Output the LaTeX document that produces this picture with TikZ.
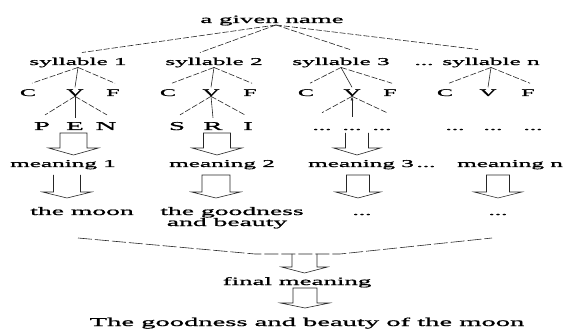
\documentclass[tikz,border=0pt]{standalone}
\usepackage{fontspec}
\setmainfont{Liberation Serif}[FakeStretch=2.4,FakeBold=1.2]
\usetikzlibrary{arrows.meta,calc}
\newcommand{\openarrow}[6]{\draw[blk] (#1-#5,#2) -- (#1-#5,#3) -- (#1-#6,#3) -- (#1,#4) -- (#1+#6,#3) -- (#1+#5,#3) -- (#1+#5,#2);}
\newcommand{\closedarrow}[6]{\draw[blk] (#1-#5,#2) -- (#1-#5,#3) -- (#1-#6,#3) -- (#1,#4) -- (#1+#6,#3) -- (#1+#5,#3) -- (#1+#5,#2) -- cycle;}
\tikzset{
  lbl/.style={inner sep=0pt, anchor=base, text=black, font=\fontsize{10.5}{12}\selectfont},
  lblbig/.style={lbl, font=\fontsize{11.5}{12}\selectfont},
  lblcvf/.style={lbl, font=\fontsize{10}{11}\selectfont},
  lblpen/.style={lbl, font=\fontsize{12}{13}\selectfont},
  vline/.style={draw=black!85, line width=0.6pt},
  sline/.style={draw=black!85, line width=0.6pt, dash pattern=on 6pt off 2pt},
  brace/.style={draw=black!85, line width=0.6pt, dash pattern=on 14pt off 3pt},
  blk/.style={draw=black!85, line width=0.6pt, line join=miter},
}
\begin{document}
\begin{tikzpicture}[x=1pt,y=-1pt]
\useasboundingbox[fill=white] (0,0) rectangle (573,331);

% top
\node[lbl, font=\fontsize{11.2}{12}\selectfont] (name) at (272,23) {a given name};
\coordinate (apex) at (276,25);

% syllables
\node[lbl] (syl1) at (78,65) {syllable 1};
\node[lbl] (syl2) at (214,65) {syllable 2};
\node[lbl] (syl3) at (341,65) {syllable 3};
\node[lbl] (syl3d) at (424,65) {...};
\node[lbl] (syln) at (491,65) {syllable n};

\draw[sline] (apex) -- ($(syl1.north)+(4,-5)$);
\draw[sline] (apex) -- ($(syl2.north)+(-14,-5)$);
\draw[sline] (apex) -- ($(syl3.north)+(9,-8)$);
\draw[sline] (apex) -- ($(syln.north)+(-13,-8)$);

% C V F rows
\node[lblcvf] (c1) at (28,96) {C};
\node[lblcvf] (v1) at (75,96) {V};
\node[lblcvf] (f1) at (113,96) {F};
\node[lblcvf] (c2) at (168,96) {C};
\node[lblcvf] (v2) at (211,96) {V};
\node[lblcvf] (f2) at (250,96) {F};
\node[lblcvf] (c3) at (306,96) {C};
\node[lblcvf] (v3) at (352,96) {V};
\node[lblcvf] (f3) at (390,96) {F};
\node[lblcvf] (c4) at (445,96) {C};
\node[lblcvf] (v4) at (488,96) {V};
\node[lblcvf] (f4) at (528,96) {F};

\foreach \s/\c/\v/\f in {syl1/c1/v1/f1, syl2/c2/v2/f2, syl3/c3/v3/f3, syln/c4/v4/f4}{
  \draw[sline] (\s.south) -- ($(\c.north)+(4,-6)$);
  \draw[vline] (\s.south) -- ($(\v.north)+(0,-2)$);
  \draw[sline] (\s.south) -- ($(\f.north)+(2,-6)$);
}

% letter rows
\node[lblpen] (p1) at (42,130) {P};
\node[lblpen] (e1) at (75,130) {E};
\node[lblpen] (n1) at (106,130) {N};
\node[lblpen] (s2) at (177,130) {S};
\node[lblpen] (r2) at (213,130) {R};
\node[lblpen] (i2) at (248,130) {I};
\node[lbl] (d31) at (322,130) {...};
\node[lbl] (d32) at (352,130) {...};
\node[lbl] (d33) at (382,130) {...};
\node[lbl] (d41) at (455,130) {...};
\node[lbl] (d42) at (493,130) {...};
\node[lbl] (d43) at (533,130) {...};

\draw[sline] (v1.south) -- ($(p1.north)+(3,-7)$);
\draw[vline] (v1.south) -- ($(e1.north)+(0,-4)$);
\draw[sline] (v1.south) -- ($(n1.north)+(1,-7)$);
\draw[sline] (v2.south) -- ($(s2.north)+(3,-7)$);
\draw[vline] (v2.south) -- ($(r2.north)+(0,-4)$);
\draw[sline] (v2.south) -- ($(i2.north)+(-3,-7)$);
\draw[sline] (v3.south) -- ($(d31.north)+(0,-16)$);
\draw[vline, -{Latex[length=4pt,width=3pt]}] ($(d32.north)+(0,-12)$) -- (v3.south);
\draw[sline] (v3.south) -- ($(d33.north)+(5,-16)$);

% first row of block arrows
\closedarrow{73.5}{133}{148}{155}{13.5}{25}
\closedarrow{217}{133}{148}{155}{13.5}{25}
\openarrow{357}{133}{148}{155}{11.5}{23.5}

% meanings
\node[lbl] (m1) at (63,167) {meaning 1};
\node[lbl] (m2) at (222,167) {meaning 2};
\node[lbl] (m3) at (361,167) {meaning 3};
\node[lbl] (m3d) at (426,167) {...};
\node[lbl] (mn) at (510,167) {meaning n};

% second row of block arrows
\openarrow{67}{175}{192}{198}{13.5}{24.5}
\closedarrow{216}{175}{192}{198}{14}{24.5}
\closedarrow{358}{175}{192}{198}{11.5}{22.5}
\closedarrow{498}{175}{192}{198}{11.5}{24}

% results
\node[lblbig] (r1) at (82,215) {the moon};
\node[lblbig] (r2a) at (232,215) {the goodness};
\node[lblbig] (r2b) at (227,226) {and beauty};
\node[lbl] (r3) at (362,215) {...};
\node[lbl] (rn) at (498,215) {...};

% brace
\draw[brace] (78,238) -- (255,254) -- (340,254) -- (492,238);
\openarrow{304.5}{254}{267}{273}{12.5}{23}

% final
\node[lbl, font=\fontsize{11.2}{12}\selectfont] (fm) at (297,285) {final meaning};
\closedarrow{305}{288}{303}{308}{12}{24.5}
\node[lbl, font=\fontsize{11.9}{12}\selectfont] (out) at (307,326) {The goodness and beauty of the moon};
\end{tikzpicture}
\end{document}
